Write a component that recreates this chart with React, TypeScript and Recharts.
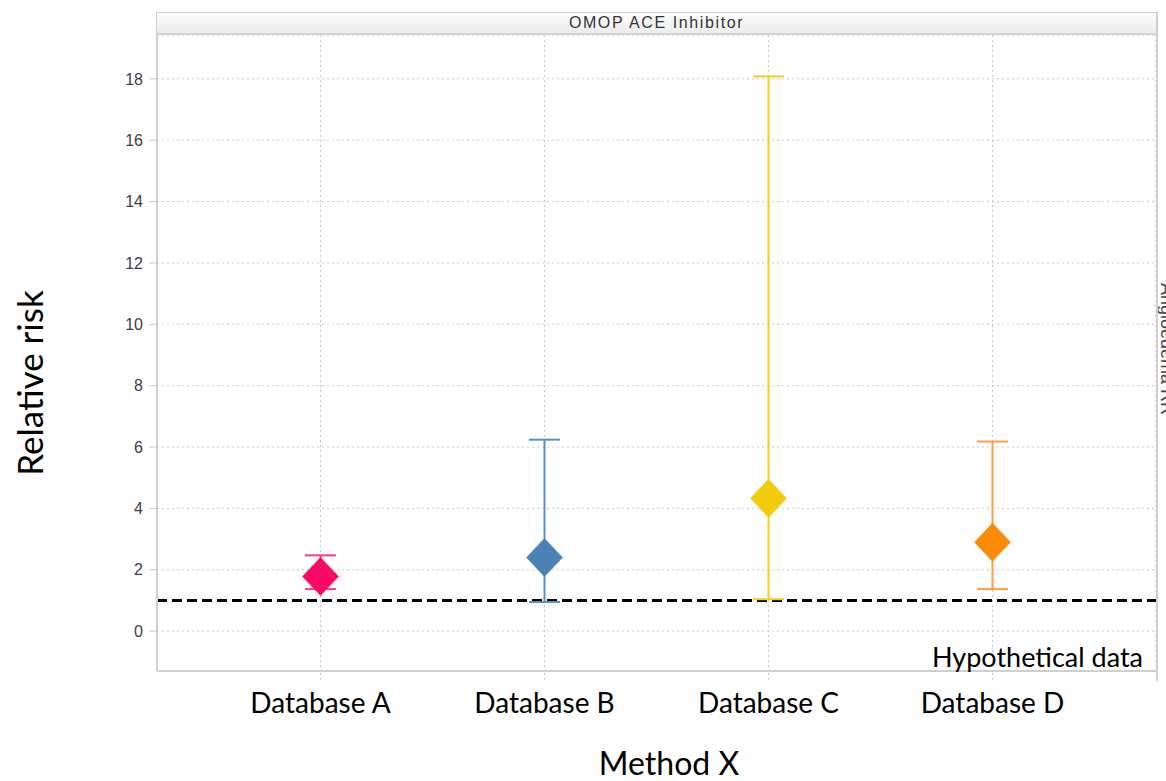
import React from "react";
import {
  CartesianGrid,
  ComposedChart,
  ErrorBar,
  ReferenceLine,
  Scatter,
  XAxis,
  YAxis,
} from "recharts";

const categories = ["Database A", "Database B", "Database C", "Database D"];
const estimates = [1.78, 2.4, 4.33, 2.9];
const lowerCI = [1.37, 0.95, 1.04, 1.37];
const upperCI = [2.47, 6.24, 18.08, 6.18];
const markerColors = ["#fb0a65", "#4a82b6", "#f1cb0c", "#fd8a04"];
const barColors = ["#fb3a80", "#5a8fc2", "#f3cf1c", "#fda040"];
const yTicks = [0, 2, 4, 6, 8, 10, 12, 14, 16, 18];
const nullValue = 1;

const W = 1166;
const H = 781;
const PLOT_L = 157;
const PLOT_R = 1156;
const PLOT_T = 35;
const PLOT_B = 671;

const bodyFont = "Lato, 'Open Sans', sans-serif";
const axisFont = "'Liberation Sans', Arial, sans-serif";

function Diamond(props: any) {
  const { cx, cy, fill } = props;
  if (cx == null || cy == null) return null;
  const hw = 18;
  const hh = 19;
  return (
    <polygon
      points={`${cx},${cy - hh} ${cx + hw},${cy} ${cx},${cy + hh} ${cx - hw},${cy}`}
      fill={fill}
      stroke={fill}
      strokeOpacity={0.6}
      strokeWidth={1}
    />
  );
}

export default function App() {
  const series = categories.map((name, i) => ({
    name,
    data: [
      {
        x: i + 1,
        y: estimates[i],
        err: [estimates[i] - lowerCI[i], upperCI[i] - estimates[i]],
      },
    ],
  }));

  return (
    <div style={{ position: "absolute", left: 0, top: 0, width: W, height: H, background: "#fff", overflow: "hidden" }}>
      {/* panel header */}
      <div
        style={{
          position: "absolute",
          left: PLOT_L - 1,
          top: 12,
          width: PLOT_R - PLOT_L + 2,
          height: PLOT_T - 12,
          border: "1px solid #cfcfcf",
          borderBottom: "2px solid #d4d4d4",
          background: "linear-gradient(#fdfdfd, #ececec)",
          textAlign: "center",
          fontFamily: axisFont,
          fontSize: 16,
          letterSpacing: 1.6,
          lineHeight: `${PLOT_T - 15}px`,
          color: "#333",
          boxSizing: "border-box",
        }}
      >
        OMOP ACE Inhibitor
      </div>
      {/* right strip title, cut by the window edge as in the original */}
      <div
        style={{
          position: "absolute",
          left: 1177,
          top: 283,
          transformOrigin: "0 0",
          transform: "rotate(90deg)",
          fontFamily: axisFont,
          fontSize: 18,
          lineHeight: "21px",
          color: "#444",
          whiteSpace: "nowrap",
        }}
      >
        Angioedema RR
      </div>

      <ComposedChart
        width={W}
        height={H}
        margin={{ top: PLOT_T, right: W - PLOT_R, bottom: 0, left: 0 }}
        style={{ position: "absolute", left: 0, top: 0 }}
      >
        <CartesianGrid stroke="#c9c9c9" strokeDasharray="2 3" />
        <XAxis
          type="number"
          dataKey="x"
          domain={[0.27, 4.73]}
          ticks={[1, 2, 3, 4]}
          tickFormatter={(v: number) => categories[v - 1] ?? ""}
          allowDataOverflow
          axisLine={{ stroke: "#cfcfcf", strokeWidth: 2 }}
          tickLine={{ stroke: "#c9c9c9", strokeDasharray: "2 3" }}
          tickSize={9}
          tickMargin={13}
          tick={{ fontFamily: bodyFont, fontSize: 28, fill: "#000" }}
          height={H - PLOT_B}
        />
        <YAxis
          type="number"
          dataKey="y"
          domain={[-1.3, 19.43]}
          ticks={yTicks}
          allowDataOverflow
          width={PLOT_L}
          axisLine={{ stroke: "#cfcfcf", strokeWidth: 2 }}
          tickLine={{ stroke: "#c9c9c9" }}
          tickSize={8}
          tickMargin={6}
          tick={{ fontFamily: axisFont, fontSize: 16, fill: "#3a3d4a" }}
        />
        <ReferenceLine
          y={nullValue}
          stroke="#000"
          strokeWidth={3}
          strokeDasharray="10 5"
          ifOverflow="extendDomain"
        />
        {series.map((s, i) => (
          <Scatter
            key={s.name}
            name={s.name}
            data={s.data}
            fill={markerColors[i]}
            shape={<Diamond />}
            isAnimationActive={false}
          >
            <ErrorBar
              dataKey="err"
              direction="y"
              width={15.5}
              stroke={barColors[i]}
              strokeWidth={2}
              isAnimationActive={false}
            />
          </Scatter>
        ))}
      </ComposedChart>

      {/* right border of the panel */}
      <div style={{ position: "absolute", left: PLOT_R, top: 12, width: 2, height: PLOT_B - 12 + 10, background: "#d0d0d0" }} />

      <div
        style={{
          position: "absolute",
          right: 1166 - 1143,
          top: 641,
          fontFamily: bodyFont,
          fontSize: 27,
          lineHeight: "32px",
          color: "#000",
          whiteSpace: "nowrap",
        }}
      >
        Hypothetical data
      </div>
      <div
        style={{
          position: "absolute",
          left: 669 - 150,
          width: 300,
          top: 744,
          textAlign: "center",
          fontFamily: bodyFont,
          fontSize: 32,
          lineHeight: "38px",
          color: "#000",
        }}
      >
        Method X
      </div>
      <div
        style={{
          position: "absolute",
          left: 29,
          top: 383,
          transform: "translate(-50%, -50%) rotate(-90deg)",
          fontFamily: bodyFont,
          fontSize: 35,
          color: "#000",
          whiteSpace: "nowrap",
        }}
      >
        Relative risk
      </div>
    </div>
  );
}
